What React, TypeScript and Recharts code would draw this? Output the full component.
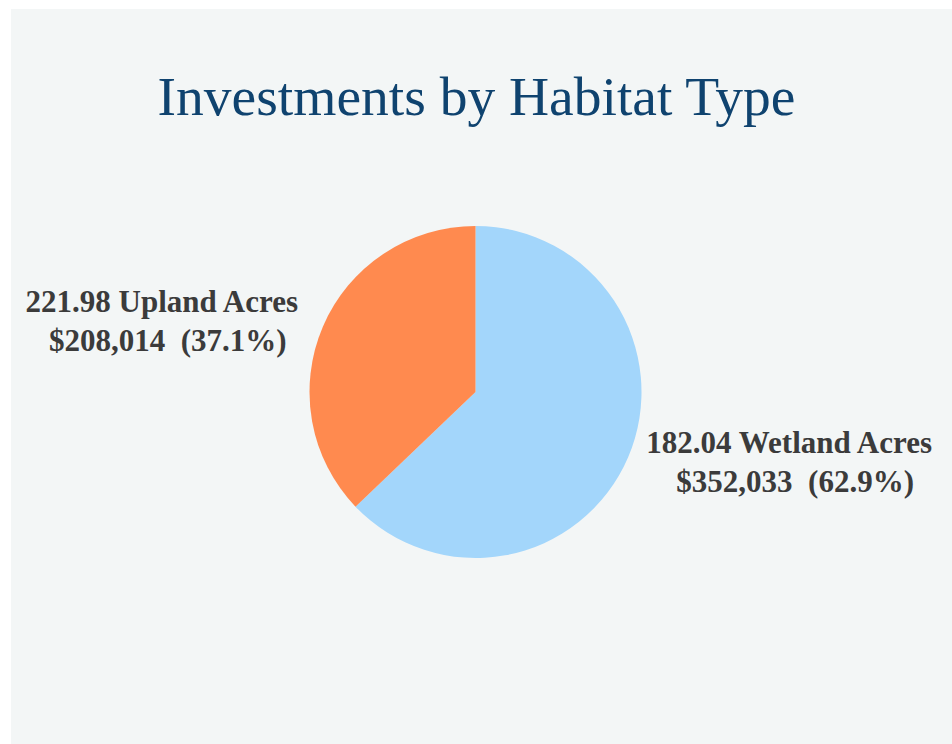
import { PieChart, Pie, Cell } from "recharts";

const habitats = ["Wetland", "Upland"];
const acres = [182.04, 221.98];
const dollars = [352033, 208014];
const colors = ["#a3d6fb", "#ff8a4f"];

const dados = habitats.map((h, i) => ({ name: h, acres: acres[i], value: dollars[i] }));
const total = dollars.reduce((a, b) => a + b, 0);

const RAD = Math.PI / 180;

function HabitatLabel(props: any) {
  const { cx, cy, midAngle, outerRadius, payload } = props;
  const x = cx + Math.cos(-midAngle * RAD) * outerRadius * 2.055;
  const y = cy + Math.sin(-midAngle * RAD) * outerRadius * 1.078 + 9.5;
  const pct = ((payload.value / total) * 100).toFixed(1);
  const money = "$" + payload.value.toLocaleString("en-US");
  return (
    <text
      x={x}
      y={y}
      textAnchor="middle"
      fill="#3b3b3b"
      style={{ fontFamily: '"Liberation Serif", "Times New Roman", serif', fontWeight: 700, fontSize: 31, whiteSpace: "pre" }}
    >
      <tspan x={x} y={y - 19}>{`${payload.acres.toFixed(2)} ${payload.name} Acres`}</tspan>
      <tspan x={x + 6} y={y + 20}>{`${money}  (${pct}%)`}</tspan>
    </text>
  );
}

export default function App() {
  return (
    <div style={{ position: "absolute", left: 0, top: 0, width: 952, height: 744, background: "#ffffff", overflow: "hidden" }}>
      <div style={{ position: "absolute", left: 11, top: 9, width: 941, height: 735, background: "#f3f6f6" }}>
        <div
          style={{
            position: "absolute",
            left: 0,
            top: 58,
            width: 941,
            textAlign: "center",
            fontFamily: '"Liberation Serif", "Times New Roman", serif',
            fontSize: 55.5,
            lineHeight: "60px",
            color: "#0f436f",
            paddingRight: 10,
            boxSizing: "border-box",
          }}
        >
          Investments by Habitat Type
        </div>
        <PieChart width={941} height={735} style={{ position: "absolute", left: 0, top: 0 }}>
          <Pie
            data={dados}
            dataKey="value"
            nameKey="name"
            cx={459.5}
            cy={378}
            outerRadius={166}
            startAngle={90}
            endAngle={-270}
            stroke="none"
            labelLine={false}
            label={HabitatLabel}
            isAnimationActive={false}
          >
            {dados.map((d, i) => (
              <Cell key={d.name} fill={colors[i]} />
            ))}
          </Pie>
        </PieChart>
      </div>
    </div>
  );
}
